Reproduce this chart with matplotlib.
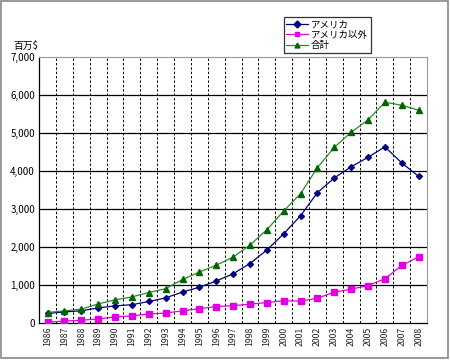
import matplotlib
matplotlib.use("Agg")
import matplotlib.pyplot as plt
import numpy as np
from matplotlib.patches import Rectangle

plt.rcParams["font.family"] = ["Noto Sans CJK JP", "DejaVu Sans"]

years = list(range(1986, 2009))
usa = [240, 280, 310, 385, 440, 470, 555, 650, 805, 930, 1095, 1285, 1555,
       1910, 2340, 2815, 3425, 3810, 4105, 4354, 4630, 4206, 3852]
other = [12, 38, 62, 95, 150, 177, 225, 250, 309, 365, 422, 445, 485,
         528, 575, 565, 644, 802, 881, 976, 1153, 1504, 1733]
total = [265, 309, 354, 490, 600, 675, 792, 893, 1135, 1330, 1510, 1726, 2042,
         2446, 2939, 3396, 4080, 4617, 5013, 5340, 5805, 5726, 5594]
labels = ["アメリカ", "アメリカ以外", "合計"]

fig = plt.figure(figsize=(4.5, 3.6), dpi=100)
fig.patches.append(Rectangle((0.003, 0.006), 0.993, 0.99, transform=fig.transFigure,
                             fill=False, edgecolor="#888888", linewidth=1.2))
ax = fig.add_axes([0.087, 0.104, 0.862, 0.738])

x = np.arange(len(years))
ax.plot(x, usa, color="#000080", marker="D", markersize=3, linewidth=0.9,
        label=labels[0], zorder=4)
ax.plot(x, other, color="#e000e0", marker="s", markersize=4.5, linewidth=0.9,
        label=labels[1], zorder=4)
ax.plot(x, total, color="#2a8a2a", marker="^", markersize=5, linewidth=0.9,
        markerfacecolor="#006400", markeredgecolor="#006400", label=labels[2], zorder=4)

ax.set_xlim(-0.5, len(years) - 0.5)
ax.set_ylim(0, 7000)
ax.set_yticks(range(0, 7001, 1000))
ax.set_yticklabels([f"{v:,}" for v in range(0, 7001, 1000)], fontsize=7)
ax.set_xticks(x)
ax.set_xticklabels([str(y) for y in years], rotation=90, fontsize=6.3, color="#222222")
ax.tick_params(length=0, pad=3)

for v in range(1000, 7000, 1000):
    ax.axhline(v, color="black", linewidth=0.9, zorder=1)
for b in np.arange(0.5, len(years) - 1, 1):
    ax.axvline(b, color="black", linewidth=0.7, linestyle=(0, (2.5, 2)), zorder=1)

for s in ["top", "right"]:
    ax.spines[s].set_color("#999999")
    ax.spines[s].set_linewidth(0.8)
for s in ["left", "bottom"]:
    ax.spines[s].set_color("black")
    ax.spines[s].set_linewidth(0.9)

fig.text(0.03, 0.865, "百万$", fontsize=7)

leg = fig.legend(loc="upper left", bbox_to_anchor=(0.631, 0.952), fontsize=6.8,
                 frameon=True, fancybox=False, handlelength=2.3, borderpad=0.35,
                 labelspacing=0.12, handletextpad=0.3, borderaxespad=0)
leg.get_frame().set_edgecolor("black")
leg.get_frame().set_linewidth(0.9)
leg._legend_box.set_width(80)
for line in leg.get_lines():
    line.set_markersize(3.5)

fig.savefig("out.png", dpi=100)
